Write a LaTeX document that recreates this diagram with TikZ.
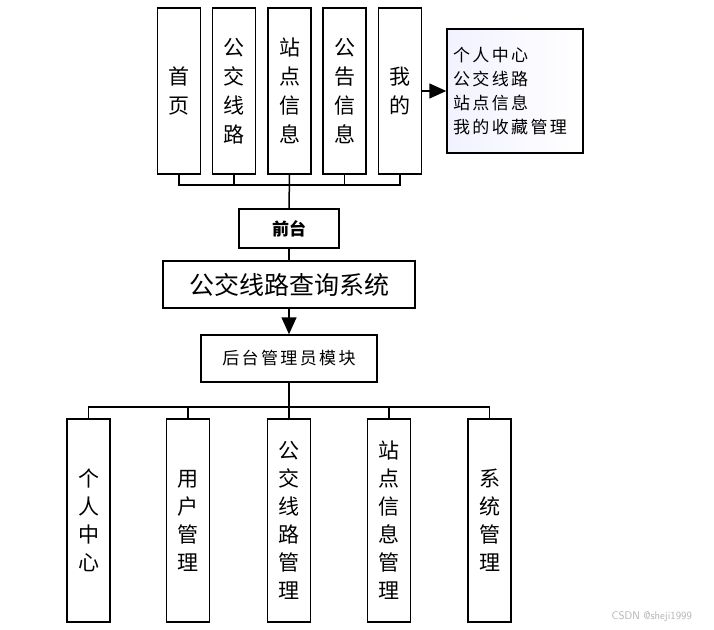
\documentclass[tikz,border=0pt]{standalone}
\usepackage{fontspec}
\newfontfamily\cjk{Noto Sans CJK SC}
\newfontfamily\cjkwide[LetterSpace=14]{Noto Sans CJK SC}
\usetikzlibrary{shapes,arrows.meta,positioning}

\begin{document}
\begin{tikzpicture}[x=1pt,y=-1pt,line width=1.5pt,
  topbox/.style={draw, rectangle, inner sep=0pt, minimum width=43pt, minimum height=166pt, align=center, font=\cjk\fontsize{21}{29}\selectfont},
  botbox/.style={draw, rectangle, inner sep=0pt, minimum width=43pt, minimum height=203pt, align=center, font=\cjk\fontsize{21}{28}\selectfont},
  midbox/.style={draw, rectangle, inner sep=0pt, font=\cjk\fontsize{18}{22}\selectfont},
  bigtip/.style={-{Triangle[length=17pt,width=15pt]}}]
\useasboundingbox (0,0) rectangle (714,629);

% 前台
\node (shouye) [topbox] at (179,91) {首\\页};
\node (gjxl) [topbox] at (234,91) {公\\交\\线\\路};
\node (zdxx) [topbox] at (289.5,91) {站\\点\\信\\息};
\node (ggxx) [topbox] at (344.5,91) {公\\告\\信\\息};
\node (wode) [topbox] at (400,91) {我\\的};
\node (info) [draw, rectangle, inner sep=0pt, minimum width=136pt, minimum height=124pt, left color=blue!5!white, right color=white, text width=124pt, align=left, font=\cjkwide\fontsize{17}{24}\selectfont] at (515,91) {个人中心\\公交线路\\站点信息\\我的收藏管理};
\coordinate (topbus) at (289.5,185);

\node (qiantai) [midbox, minimum width=100pt, minimum height=39pt, font=\cjk\bfseries\fontsize{17}{20}\selectfont] at (289,228.5) {前台};
\node (xitong) [midbox, minimum width=252pt, minimum height=47pt, font=\cjk\fontsize{25}{30}\selectfont] at (289,284.5) {公交线路查询系统};
\node (houtai) [midbox, minimum width=176pt, minimum height=47pt, font=\cjkwide\fontsize{17}{22}\selectfont] at (289,358.5) {后台管理员模块};

% 后台
\coordinate (botbus) at (289,407);
\node (geren) [botbox] at (88.5,520.5) {个\\人\\中\\心};
\node (yonghu) [botbox] at (188,520.5) {用\\户\\管\\理};
\node (xlgl) [botbox] at (289,520.5) {公\\交\\线\\路\\管\\理};
\node (zdgl) [botbox] at (389,520.5) {站\\点\\信\\息\\管\\理};
\node (xtgl) [botbox] at (489.5,520.5) {系\\统\\管\\理};

\node (mark) [text=gray!60, font=\sffamily\fontsize{11}{13}\selectfont, anchor=east] at (696,617) {CSDN @sheji1999};

\draw (shouye.south) |- (topbus);
\draw (gjxl.south) |- (topbus);
\draw (ggxx.south) |- (topbus);
\draw (wode.south) |- (topbus);
\draw (zdxx.south) -- (qiantai.north);
\draw[bigtip] (wode.east) -- (info.west);
\draw (qiantai) -- (xitong);
\draw[bigtip] (xitong) -- (houtai);
\draw (houtai.south) -- (xlgl.north);
\draw (geren.north) |- (botbus);
\draw (yonghu.north) |- (botbus);
\draw (zdgl.north) |- (botbus);
\draw (xtgl.north) |- (botbus);
\end{tikzpicture}
\end{document}
